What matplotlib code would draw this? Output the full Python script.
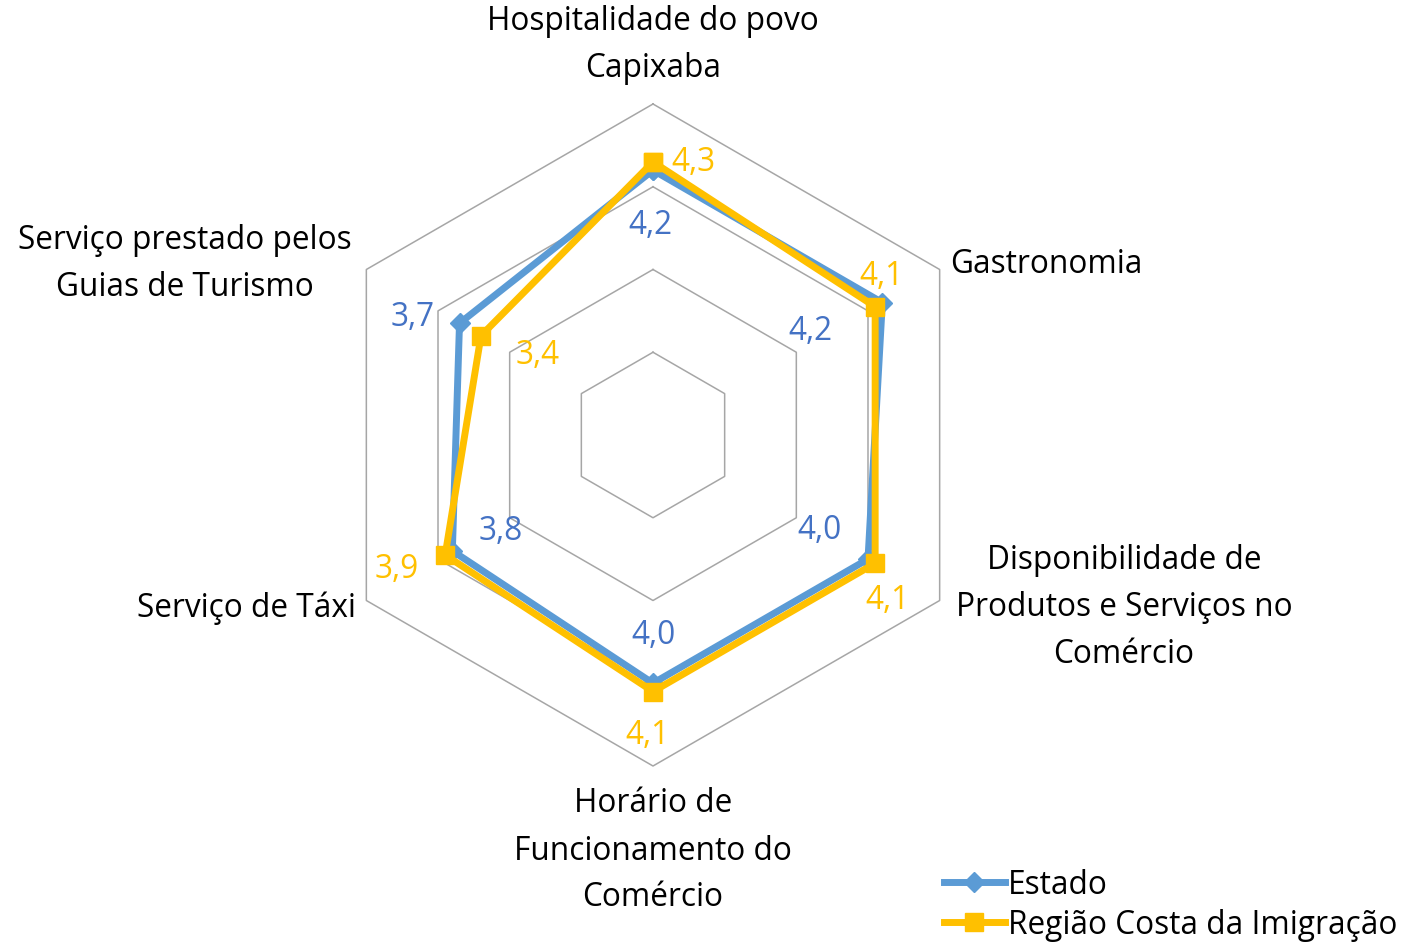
import numpy as np
import matplotlib
matplotlib.use("Agg")
import matplotlib.pyplot as plt

categories = ["Hospitalidade do povo\nCapixaba", "Gastronomia",
              "Disponibilidade de\nProdutos e Serviços no\nComércio",
              "Horário de\nFuncionamento do\nComércio", "Serviço de Táxi",
              "Serviço prestado pelos\nGuias de Turismo"]
estado = [4.2, 4.2, 4.0, 4.0, 3.8, 3.7]
regiao = [4.3, 4.1, 4.1, 4.1, 3.9, 3.4]
series_names = ["Estado", "Região Costa da Imigração"]
r_min, r_max = 1, 5
grid_levels = [2, 3, 4, 5]

BLUE = "#5B9BD5"
BLUE_TXT = "#4472C4"
YEL = "#FFC000"
FONT = "Open Sans"

W, H = 1409, 945
fig = plt.figure(figsize=(W / 100, H / 100), dpi=100)
ax = fig.add_axes([0, 0, 1, 1])
ax.set_axis_off()
scale = 82.75
cx, cy = 653, 436
ax.set_xlim(-cx / scale, (W - cx) / scale)
ax.set_ylim(-(H - cy) / scale, cy / scale)
ax.set_aspect("equal")

n = len(categories)
ang = np.arange(n) * 2 * np.pi / n  # clockwise from top


def xy(vals):
    r = np.asarray(vals, float) - r_min
    return r * np.sin(ang), r * np.cos(ang)


# grid
for lv in grid_levels:
    gx, gy = xy([lv] * n)
    ax.plot(np.append(gx, gx[0]), np.append(gy, gy[0]), color="#A6A6A6", lw=1.1, zorder=1)

# series
ex, ey = xy(estado)
rx, ry = xy(regiao)
ax.plot(np.append(ex, ex[0]), np.append(ey, ey[0]), color=BLUE, lw=5,
        marker="D", ms=10, zorder=3, label=series_names[0], solid_joinstyle="round")
ax.plot(np.append(rx, rx[0]), np.append(ry, ry[0]), color=YEL, lw=5,
        marker="s", ms=13, zorder=4, label=series_names[1], solid_joinstyle="round")

fs = 22.8
# data labels: (dx, dy) offsets in pixels (positive dy = up)
est_off = [(-3, -54), (-72, -28), (-48, 30), (0, 49), (48, 20), (-47, 7)]
reg_off = [(40, 0), (6, 31), (12, -36), (-6, -43), (-48, -14), (57, -19)]
for i in range(n):
    ax.annotate(f"{estado[i]:.1f}".replace(".", ","), (ex[i], ey[i]),
                xytext=est_off[i], textcoords="offset pixels", ha="center", va="center",
                color=BLUE_TXT, fontsize=fs, family=FONT, zorder=5)
    ax.annotate(f"{regiao[i]:.1f}".replace(".", ","), (rx[i], ry[i]),
                xytext=reg_off[i], textcoords="offset pixels", ha="center", va="center",
                color=YEL, fontsize=fs, family=FONT, zorder=5)

# category labels
cat_pos = [(653, 45, "center"), (950, 265, "left"), (1124, 608, "center"),
           (653, 851, "center"), (356, 608, "right"), (185, 264, "center")]
for (px, py, ha), c in zip(cat_pos, categories):
    ax.text((px - cx) / scale, (cy - py) / scale, c, ha=ha, va="center",
            fontsize=fs, family=FONT, color="#000000", linespacing=1.56)

leg = ax.legend(loc="lower right", bbox_to_anchor=(1.005, -0.017), frameon=False,
                prop={"family": FONT, "size": fs}, handlelength=1.9,
                handletextpad=0.1, labelspacing=0.22, borderaxespad=0.2)

fig.savefig("out.png", dpi=100)
